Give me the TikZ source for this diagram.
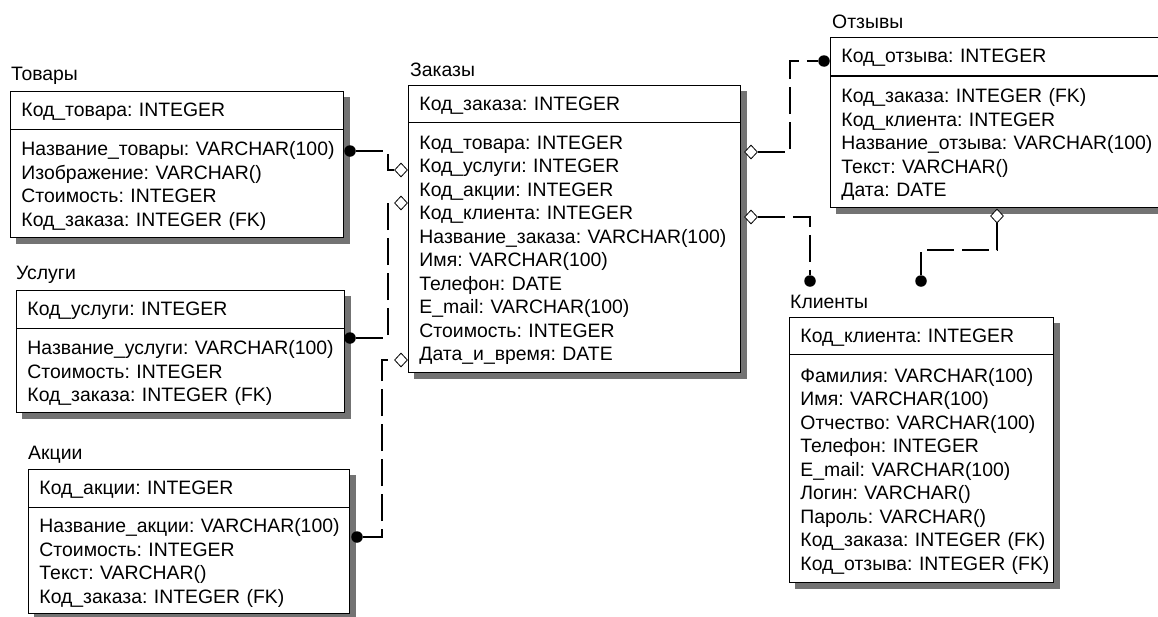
\documentclass[tikz,border=0pt]{standalone}
\usepackage{fontspec}
\setmainfont{Liberation Sans}
\usetikzlibrary{shapes.geometric,backgrounds}
\frenchspacing
\newcommand\fieldlist[1]{\raisebox{-3pt}[\height][\depth]{\begin{tabular}{@{}l@{}}#1\end{tabular}}}

\begin{document}
\begin{tikzpicture}[x=1pt, y=-1pt,
  font=\fontsize{19.4}{23.5}\selectfont,
  title/.style={anchor=west, inner sep=0pt},
  keybox/.style={draw, line width=0.9pt, fill=white, anchor=north west, align=left, inner xsep=11pt, inner ysep=0pt, minimum height=38pt, text height=14pt, text depth=1pt},
  body/.style={draw, line width=0.9pt, fill=white, anchor=north west, align=left, inner xsep=11pt, inner ysep=0pt},
  shade/.style={fill=black!55},
  dot/.style={circle, fill=black, inner sep=0pt, minimum size=11.5pt},
  opendia/.style={diamond, draw, line width=0.8pt, fill=white, inner sep=0pt, minimum width=13pt, minimum height=14pt},
  rel/.style={draw, line width=1.1pt, dash pattern=on 27pt off 8pt}
]
\useasboundingbox (0,0) rectangle (1158,616);

\node[title] (tovT) at (11,76) {Товары};
\node[keybox, text width=311pt] (tovK) at (10,91) {Код\_товара: INTEGER};
\node[body, text width=311pt, minimum height=108pt] (tovB) at (10,129) {\fieldlist{Название\_товары: VARCHAR(100)\\Изображение: VARCHAR()\\Стоимость: INTEGER\\Код\_заказа: INTEGER (FK)}};

\node[title] (uslT) at (16,275) {Услуги};
\node[keybox, text width=306pt] (uslK) at (16,290) {Код\_услуги: INTEGER};
\node[body, text width=306pt, minimum height=84pt] (uslB) at (16,328) {\fieldlist{Название\_услуги: VARCHAR(100)\\Стоимость: INTEGER\\Код\_заказа: INTEGER (FK)}};

\node[title] (akcT) at (28,455) {Акции};
\node[keybox, text width=299pt] (akcK) at (28,469) {Код\_акции: INTEGER};
\node[body, text width=299pt, minimum height=106pt] (akcB) at (28,507) {\fieldlist{Название\_акции: VARCHAR(100)\\Стоимость: INTEGER\\Текст: VARCHAR()\\Код\_заказа: INTEGER (FK)}};

\node[title] (zakT) at (410,70) {Заказы};
\node[keybox, text width=310pt] (zakK) at (408,85) {Код\_заказа: INTEGER};
\node[body, text width=310pt, minimum height=250pt] (zakB) at (408,122) {\fieldlist{Код\_товара: INTEGER\\Код\_услуги: INTEGER\\Код\_акции: INTEGER\\Код\_клиента: INTEGER\\Название\_заказа: VARCHAR(100)\\Имя: VARCHAR(100)\\Телефон: DATE\\E\_mail: VARCHAR(100)\\Стоимость: INTEGER\\Дата\_и\_время: DATE}};

\node[title] (otzT) at (832,22) {Отзывы};
\node[keybox, text width=340pt] (otzK) at (830,37) {Код\_отзыва: INTEGER};
\node[body, text width=340pt, minimum height=131pt] (otzB) at (830,76) {\fieldlist{Код\_заказа: INTEGER (FK)\\Код\_клиента: INTEGER\\Название\_отзыва: VARCHAR(100)\\Текст: VARCHAR()\\Дата: DATE}};

\node[title] (kliT) at (790,302) {Клиенты};
\node[keybox, text width=242pt] (kliK) at (789,317) {Код\_клиента: INTEGER};
\node[body, text width=242pt, minimum height=228pt] (kliB) at (789,354) {\fieldlist{Фамилия: VARCHAR(100)\\Имя: VARCHAR(100)\\Отчество: VARCHAR(100)\\Телефон: INTEGER\\E\_mail: VARCHAR(100)\\Логин: VARCHAR()\\Пароль: VARCHAR()\\Код\_заказа: INTEGER (FK)\\Код\_отзыва: INTEGER (FK)}};

\begin{scope}[on background layer]
\foreach \t in {tov,usl,akc,zak,otz,kli} {
  \fill[shade] ([xshift=6pt,yshift=-6pt]\t K.north west) rectangle ([xshift=6pt,yshift=-6pt]\t B.south east);
}
\end{scope}

\node[dot] (d1) at (350,151) {};
\node[dot] (d2) at (350,338) {};
\node[dot] (d3) at (357,537) {};
\node[dot] (d4) at (824,61) {};
\node[dot] (d5) at (810,281) {};
\node[dot] (d6) at (921,281) {};
\node[opendia] (m1) at (401,170) {};
\node[opendia] (m2) at (401,203) {};
\node[opendia] (m3) at (401,360) {};
\node[opendia] (m4) at (751,152) {};
\node[opendia] (m5) at (751,217) {};
\node[opendia] (m6) at (997,216) {};

\draw[rel] (d1) -- ++(38,0) |- (m1);
\draw[rel] (d2) -- ++(38,0) |- (m2);
\draw[rel] (d3) -- ++(25,0) |- (m3);
\draw[rel] (m4) -- ++(39,0) |- (d4);
\draw[rel] (m5) -| (d5);
\draw[rel] (m6) -- ++(0,34) -| (d6);
\end{tikzpicture}
\end{document}
